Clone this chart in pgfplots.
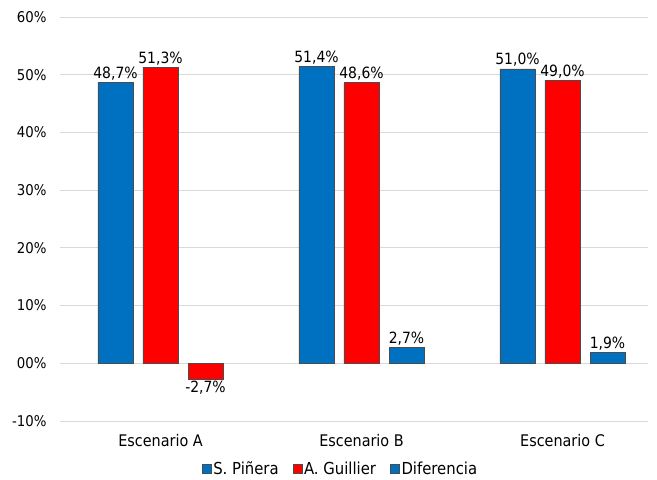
\documentclass[border=0pt]{standalone}
\usepackage{fontspec}
\setmainfont{DejaVu Sans Condensed}
\usepackage{pgfplots}
\pgfplotsset{compat=1.18}
\definecolor{azul}{HTML}{0070C0}
\definecolor{rojo}{HTML}{FF0000}
\definecolor{grilla}{HTML}{D9D9D9}

\begin{document}
\begin{tikzpicture}[x=1pt,y=1pt]
\path[use as bounding box] (-60,-59) rectangle (597,421);
\begin{axis}[
    at={(0,0)}, anchor=south west,
    scale only axis, width=588pt, height=404pt,
    font=\fontsize{16}{18}\selectfont,
    /pgf/number format/assume math mode=true,
    xmin=-0.5, xmax=2.4254,
    ymin=-10, ymax=60,
    axis line style={draw=none},
    major tick length=0pt,
    ytick={-10,0,10,20,30,40,50,60},
    yticklabels={-10\%,00\%,10\%,20\%,30\%,40\%,50\%,60\%},
    yticklabel style={xshift=-10pt, font=\fontsize{14.8}{17}\selectfont},
    ymajorgrids, grid style={grilla, line width=1pt},
    xtick={0,1,2},
    xticklabels={Escenario A,Escenario B,Escenario C},
    xticklabel style={yshift=-10pt},
    ybar, bar width=35pt, bar shift=0pt,
    every axis plot/.append style={draw=black!70, line width=0.6pt},
    nodes near coords={\pgfmathprintnumber[fixed,fixed zerofill,precision=1,use comma]{\pgfplotspointmeta}\%},
    every node near coord/.append style={font=\fontsize{15.5}{18}\selectfont, black, inner sep=2pt},
    legend columns=3,
    legend style={draw=none, at={(0.477,-0.091)}, anchor=north,
        font=\fontsize{16.5}{18}\selectfont,
        /tikz/every even column/.append style={column sep=12pt}},
    legend image code/.code={\draw[#1, draw=black!70, line width=0.5pt] (0pt,-4.5pt) rectangle (9pt,4.5pt);},
]
\addplot[fill=azul] coordinates {(-0.2239,48.7) (0.7761,51.4) (1.7761,51.0)};
\addlegendentry{S. Piñera}
\addplot[fill=rojo] coordinates {(0,51.3) (1,48.6) (2,49.0)};
\addlegendentry{A. Guillier}
\addplot[fill=azul] coordinates {(1.2239,2.7) (2.2239,1.9)};
\addlegendentry{Diferencia}
\addplot[fill=rojo, forget plot] coordinates {(0.2239,-2.7)};
\end{axis}
\end{tikzpicture}
\end{document}
